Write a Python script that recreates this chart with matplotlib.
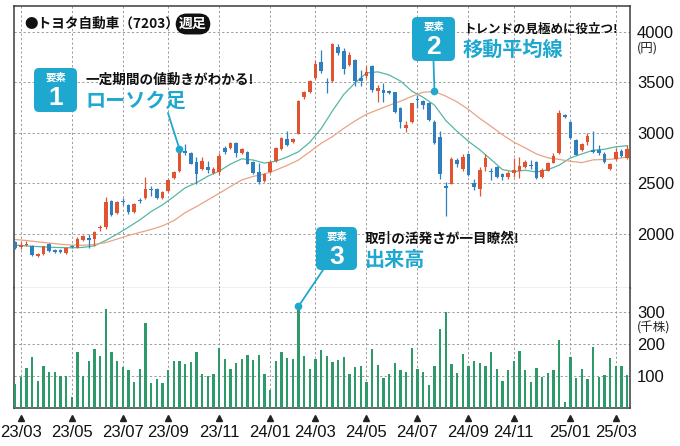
import numpy as np
import matplotlib
matplotlib.use("Agg")
import matplotlib.pyplot as plt
from matplotlib.patches import FancyBboxPatch
import matplotlib.transforms as mtransforms

plt.rcParams["font.family"] = ["Noto Sans CJK JP", "DejaVu Sans"]

# weekly candles, week 0 = 2023-02-20 ... week 108 = 2025-03-10 (yen)
opens = [1925, 1870, 1895, 1885, 1780, 1805, 1905, 1838, 1838, 1815,
         1885, 1865, 1940, 1958, 1955, 2055, 2065, 2330, 2205, 2325,
         2290, 2220, 2340, 2360, 2450, 2450, 2355, 2430, 2555, 2620,
         2825, 2800, 2715, 2645, 2660, 2608, 2615, 2855, 2850, 2900,
         2800, 2810, 2710, 2610, 2520, 2610, 2725, 2840, 2945, 2915,
         2990, 3355, 3405, 3540, 3700, 3505, 3515, 3850, 3810, 3675,
         3720, 3545, 3565, 3660, 3415, 3430, 3420, 3405, 3245, 3048,
         3112, 3335, 3320, 3300, 3105, 2958, 2468, 2495, 2730, 2640,
         2790, 2500, 2445, 2665, 2618, 2665, 2590, 2560, 2605, 2628,
         2661, 2675, 2711, 2563, 2628, 2704, 2803, 3181, 3109, 2934,
         2836, 2911, 2836, 2836, 2795, 2648, 2740, 2825, 2755]
highs = [1935, 1920, 1930, 1895, 1815, 1885, 1915, 1850, 1850, 1870,
         1895, 1965, 1990, 1995, 2025, 2090, 2365, 2340, 2330, 2360,
         2300, 2310, 2360, 2560, 2475, 2460, 2425, 2540, 2620, 2840,
         2890, 2810, 2760, 2760, 2725, 2660, 2800, 2870, 2910, 2910,
         2850, 2825, 2720, 2700, 2600, 2720, 2860, 2960, 3020, 2950,
         3325, 3420, 3520, 3720, 3820, 3540, 3890, 3880, 3840, 3800,
         3730, 3620, 3660, 3670, 3475, 3490, 3430, 3410, 3260, 3120,
         3300, 3380, 3330, 3310, 3130, 3015, 2510, 2760, 2750, 2790,
         2800, 2540, 2660, 2790, 2650, 2675, 2600, 2620, 2750, 2760,
         2730, 2735, 2720, 2650, 2710, 2800, 3230, 3190, 3120, 2940,
         2900, 2995, 3020, 2880, 2810, 2700, 2850, 2840, 2880]
lows = [1850, 1855, 1885, 1780, 1770, 1795, 1825, 1810, 1810, 1805,
        1860, 1860, 1930, 1865, 1880, 2030, 2050, 2180, 2195, 2290,
        2200, 2210, 2310, 2350, 2380, 2350, 2345, 2420, 2545, 2610,
        2780, 2690, 2490, 2630, 2600, 2590, 2580, 2790, 2840, 2760,
        2790, 2690, 2590, 2490, 2510, 2600, 2715, 2830, 2875, 2900,
        2985, 3340, 3400, 3530, 3590, 3400, 3505, 3770, 3580, 3660,
        3460, 3460, 3540, 3410, 3310, 3310, 3390, 3200, 3050, 3010,
        3100, 3250, 3240, 3120, 2890, 2545, 2180, 2490, 2660, 2620,
        2570, 2440, 2380, 2625, 2530, 2550, 2530, 2545, 2560, 2550,
        2650, 2640, 2545, 2555, 2620, 2700, 2795, 3150, 2940, 2780,
        2825, 2880, 2800, 2780, 2700, 2630, 2730, 2760, 2745]
closes = [1860, 1895, 1905, 1795, 1800, 1880, 1835, 1818, 1818, 1865,
          1870, 1955, 1975, 1942, 2020, 2065, 2320, 2190, 2320, 2315,
          2220, 2300, 2322, 2450, 2440, 2355, 2420, 2535, 2615, 2835,
          2800, 2695, 2590, 2725, 2632, 2648, 2770, 2810, 2900, 2800,
          2840, 2695, 2600, 2510, 2595, 2710, 2850, 2950, 2885, 2945,
          3320, 3405, 3515, 3685, 3610, 3495, 3880, 3790, 3630, 3775,
          3515, 3510, 3600, 3430, 3445, 3395, 3400, 3212, 3112, 3078,
          3295, 3325, 3275, 3130, 2905, 2592, 2460, 2745, 2690, 2760,
          2580, 2462, 2630, 2755, 2610, 2565, 2560, 2608, 2630, 2670,
          2714, 2668, 2556, 2638, 2704, 2770, 3197, 3155, 2951, 2786,
          2891, 2974, 2809, 2803, 2710, 2694, 2812, 2770, 2845]
# weekly volume (thousand shares)
volume = [75, 98, 124, 158, 85, 132, 111, 112, 100, 100,
          34, 176, 100, 148, 183, 161, 307, 176, 148, 127,
          117, 81, 120, 266, 78, 90, 78, 117, 148, 146,
          137, 143, 176, 105, 101, 105, 188, 154, 120, 141,
          154, 164, 150, 166, 105, 57, 146, 174, 157, 152,
          317, 161, 122, 154, 180, 161, 143, 150, 158, 105,
          127, 131, 80, 184, 134, 94, 105, 140, 119, 113,
          188, 121, 112, 72, 132, 246, 300, 137, 110, 168,
          132, 147, 140, 130, 173, 123, 85, 117, 147, 177,
          117, 82, 125, 98, 108, 119, 212, 19, 160, 94,
          121, 91, 191, 98, 104, 156, 132, 130, 102]

# moving averages read every second week
ma_weeks = list(range(0, 109, 2))
ma13 = [1890, 1882, 1875, 1869, 1865, 1863, 1867, 1883, 1936, 1999,
        2067, 2139, 2222, 2288, 2370, 2457, 2507, 2572, 2622, 2692,
        2744, 2732, 2702, 2720, 2762, 2814, 2908, 3043, 3219, 3382,
        3496, 3594, 3605, 3574, 3514, 3414, 3353, 3276, 3123, 3015,
        2917, 2833, 2736, 2637, 2617, 2631, 2613, 2636, 2681, 2753,
        2792, 2829, 2839, 2863, 2874]
ma26 = [1945, 1935, 1922, 1910, 1898, 1890, 1888, 1895, 1915, 1950,
        1985, 2015, 2045, 2080, 2132, 2211, 2271, 2337, 2402, 2470,
        2535, 2570, 2593, 2632, 2679, 2732, 2814, 2897, 2964, 3046,
        3120, 3185, 3230, 3274, 3314, 3363, 3403, 3411, 3364, 3307,
        3232, 3144, 3065, 2982, 2910, 2852, 2792, 2754, 2738, 2720,
        2706, 2734, 2737, 2743, 2763]

tick_weeks = [1, 10, 19, 27, 36, 45, 53, 62, 71, 80, 88, 98, 106]
tick_labels = ["23/03", "23/05", "23/07", "23/09", "23/11", "24/01", "24/03",
               "24/05", "24/07", "24/09", "24/11", "25/01", "25/03"]
price_ticks = [2000, 2500, 3000, 3500, 4000]
volume_ticks = [100, 200, 300]

RED = "#e05432"
BLUE = "#2f7fbe"
MA_GREEN = "#56b6a4"
MA_ORANGE = "#e9a384"
VOL_GREEN = "#2f9a69"
TEAL = "#1fa8cf"
GRID = "#969696"
FRAME = "#3a3a3a"
NUM_FONT = "Liberation Sans"

W, H, DPI = 680, 446, 100
fig = plt.figure(figsize=(W / DPI, H / DPI), dpi=DPI)
inch = fig.dpi_scale_trans


def at(px, py):
    # pixel position measured from the top-left corner -> inches
    return px / DPI, (H - py) / DPI


ax = fig.add_axes([14 / W, 1 - 288 / H, 616 / W, 282 / H])
axv = fig.add_axes([14 / W, 1 - 408 / H, 616 / W, 120 / H], sharex=ax)

x = np.arange(len(closes))
o = np.array(opens)
c = np.array(closes)
colors = np.where(c >= o, RED, BLUE)

# candles
ax.vlines(x, lows, highs, colors=colors, lw=0.9, zorder=3)
ax.bar(x, np.maximum(np.abs(c - o), 10), bottom=np.minimum(o, c), width=0.66,
       color=colors, linewidth=0, zorder=4)
ax.plot(ma_weeks, ma13, color=MA_GREEN, lw=0.9, zorder=2)
ax.plot(ma_weeks, ma26, color=MA_ORANGE, lw=0.9, zorder=2)

# volume
axv.bar(x, volume, width=0.38, color=VOL_GREEN, linewidth=0, zorder=3)

ax.set_xlim(-0.2, 108.5)
ax.set_ylim(1465, 4257)
axv.set_ylim(0, 374)

grid_kw = dict(color=GRID, lw=0.65, linestyle=(0, (2.5, 2.5)))
for a in (ax, axv):
    a.set_axisbelow(True)
    a.grid(True, **grid_kw)
    a.yaxis.tick_right()
    a.tick_params(length=0)
    for s in ("left", "right", "top", "bottom"):
        a.spines[s].set_color(FRAME)
        a.spines[s].set_linewidth(1.1)

ax.spines["bottom"].set_color("#8a8a8a")
ax.spines["bottom"].set_linewidth(0.9)
axv.spines["top"].set_visible(False)

axv.set_xticks(tick_weeks, tick_labels, fontfamily=NUM_FONT, fontsize=12)
ax.tick_params(axis="x", labelbottom=False)
axv.tick_params(axis="x", pad=12, colors="#111")
ax.set_yticks(price_ticks, [str(v) for v in price_ticks],
              fontfamily=NUM_FONT, fontsize=12)
axv.set_yticks(volume_ticks, [str(v) for v in volume_ticks],
               fontfamily=NUM_FONT, fontsize=12)
ax.tick_params(axis="y", pad=5, colors="#111")
axv.tick_params(axis="y", pad=5, colors="#111")

# small triangles above the date labels
tri = mtransforms.blended_transform_factory(axv.transData, axv.transAxes)
axv.plot(tick_weeks, [-0.085] * len(tick_weeks), "^", ms=4.2, color="#222",
         transform=tri, clip_on=False)

# unit labels
fig.text(*at(637, 48), "(円)", transform=inch, fontsize=9, va="center", color="#222")
fig.text(*at(637, 328), "(千株)", transform=inch, fontsize=9, va="center", color="#222")

# title
fig.text(*at(24, 24), "●トヨタ自動車（7203）", transform=inch, fontsize=9.8,
         fontweight="bold", va="center", color="#111")
fig.text(*at(193, 24), "週足", transform=inch, fontsize=10, fontweight="bold",
         va="center", ha="center", color="white",
         bbox=dict(boxstyle="round,pad=0.25,rounding_size=0.8", fc="#111", ec="none"))


def callout(left, top, width, height, number, line1, line2, size1=9.8):
    box = FancyBboxPatch(at(left, top + height), width / DPI, height / DPI,
                         boxstyle="round,pad=0,rounding_size=0.05",
                         transform=inch, fc=TEAL, ec="none", zorder=5)
    fig.add_artist(box)
    cx = left + width / 2
    fig.text(*at(cx, top + 10), "要素", transform=inch, color="white", fontsize=7.5,
             fontweight="bold", ha="center", va="center", zorder=6)
    fig.text(*at(cx, top + 30), number, transform=inch, color="white", fontsize=19,
             fontfamily=NUM_FONT, fontweight="bold", ha="center", va="center", zorder=6)
    fig.text(*at(left + width + 8, top + 12), line1, transform=inch, fontsize=size1,
             fontweight="bold", va="center", color="#111", zorder=6)
    fig.text(*at(left + width + 8, top + 32), line2, transform=inch, fontsize=14.5,
             fontweight="bold", va="center", color=TEAL, zorder=6)


callout(34, 68, 43, 44, "1", "一定期間の値動きがわかる!", "ローソク足")
callout(412, 17, 43, 44, "2", "トレンドの見極めに役立つ!", "移動平均線", size1=9.0)
callout(316, 227, 41, 43, "3", "取引の活発さが一目瞭然!", "出来高")

line_kw = dict(arrowstyle="-", color=TEAL, lw=1.3, shrinkA=0, shrinkB=0)
# element 1 -> high of the week 29 candle
ax.annotate("", xy=(29, highs[29]), xytext=at(168, 113), textcoords=inch,
            arrowprops=line_kw)
ax.plot(29, highs[29], "o", ms=4.5, color=TEAL, zorder=6)
# element 2 -> 26-week average
ax.annotate("", xy=(ma_weeks[37], ma26[37]), xytext=at(433.5, 61), textcoords=inch,
            arrowprops=line_kw)
ax.plot(ma_weeks[37], ma26[37], "o", ms=4.5, color=TEAL, zorder=6)
# element 3 -> volume spike
axv.annotate("", xy=(50, volume[50]), xytext=at(323, 270), textcoords=inch,
             arrowprops=line_kw)
axv.plot(50, volume[50], "o", ms=4.5, color=TEAL, zorder=6, clip_on=False)

fig.savefig("out.png", dpi=DPI)
